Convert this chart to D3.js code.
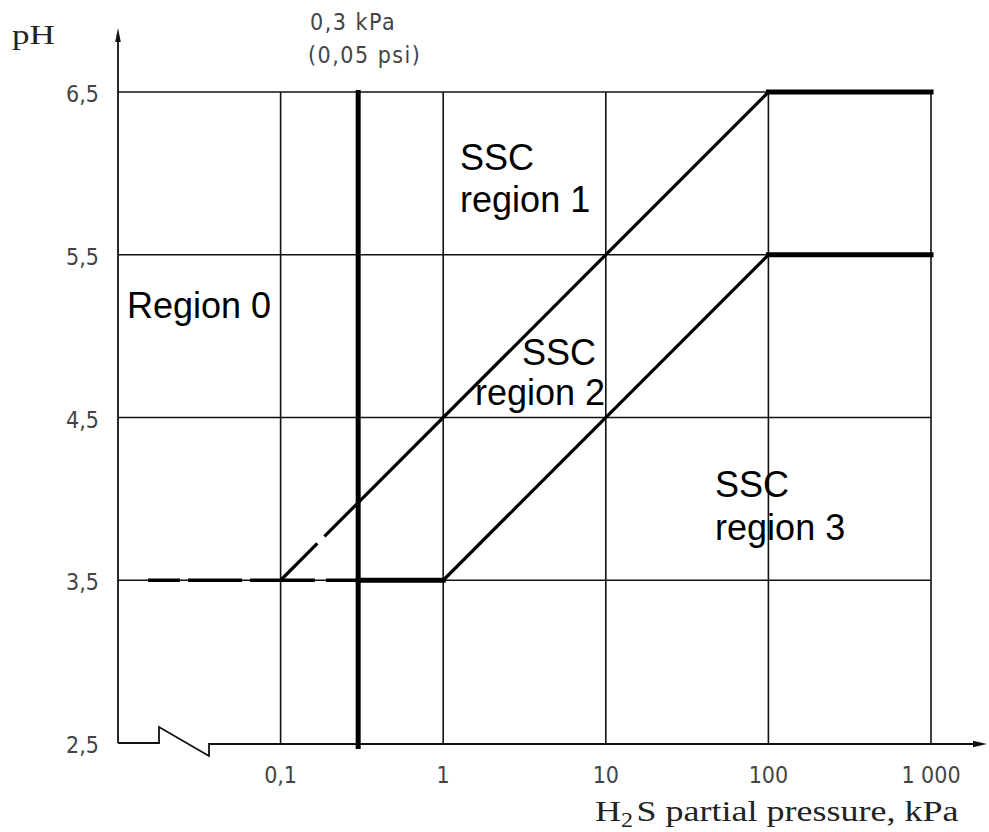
<!DOCTYPE html>
<html>
<head>
<meta charset="utf-8">
<script src="https://cdn.jsdelivr.net/npm/d3@7"></script>
<style>
  html, body { margin: 0; padding: 0; background: #fff; }
  svg { display: block; }
</style>
</head>
<body>
<svg id="chart" width="989" height="832"></svg>
<script>
// ---- data -------------------------------------------------------------
const xTicks = [0.1, 1, 10, 100, 1000];
const xTickLabels = ["0,1", "1", "10", "100", "1 000"];
const yTicks = [2.5, 3.5, 4.5, 5.5, 6.5];
const yTickLabels = ["2,5", "3,5", "4,5", "5,5", "6,5"];

// boundary between region 0/1 and region 1/2 (H2S kPa, pH)
const boundaryUpper = [[0.1, 3.5], [100, 6.5], [1000, 6.5]];
// boundary between region 2 and region 3
const boundaryLower = [[0.3, 3.5], [1, 3.5], [100, 5.5], [1000, 5.5]];
// dashed extension of pH 3.5 toward low pressure
const dashedLow = [[0.0153, 3.5], [0.3, 3.5]];
// limit of 0.3 kPa H2S partial pressure
const limitPressure = 0.3;

const regionLabels = [
  { lines: ["Region 0"], x: 0.01136, y: 5.11, dx: [0], lh: 42 },
  { lines: ["SSC", "region 1"], x: 1.27, y: 6.02, dx: [0, 0], lh: 42 },
  { lines: ["SSC", "region 2"], x: 3.05, y: 4.825, dx: [0, -47], lh: 40 },
  { lines: ["SSC", "region 3"], x: 47, y: 4.01, dx: [0, 0], lh: 43 }
];

// ---- layout -----------------------------------------------------------
const svg = d3.select("#chart");
const x = d3.scaleLog().domain([0.01, 1000]).range([118, 931]);
const y = d3.scaleLinear().domain([2.5, 6.5]).range([743, 92]);
const x0 = x.range()[0];
const ink = "#111";

// grid
svg.append("g").selectAll("line.v").data(xTicks).join("line")
  .attr("x1", d => x(d)).attr("x2", d => x(d))
  .attr("y1", y(6.5)).attr("y2", y(2.5))
  .attr("stroke", ink).attr("stroke-width", 1.6);
svg.append("g").selectAll("line.h").data(yTicks.slice(1)).join("line")
  .attr("x1", x0).attr("x2", x(1000))
  .attr("y1", d => y(d)).attr("y2", d => y(d))
  .attr("stroke", ink).attr("stroke-width", 1.6);

// y axis with arrow
const yAxisTop = 28;
svg.append("line").attr("x1", x0).attr("x2", x0)
  .attr("y1", y(2.5)).attr("y2", yAxisTop + 8)
  .attr("stroke", ink).attr("stroke-width", 1.8);
svg.append("path")
  .attr("d", `M${x0},${yAxisTop} L${x0 - 2.8},${yAxisTop + 14} L${x0 + 2.8},${yAxisTop + 14} Z`)
  .attr("fill", ink);

// x axis with break and arrow
const ya = y(2.5);
const bx1 = x0 + 41, bx2 = x0 + 91;
const xAxisEnd = 987;
svg.append("path")
  .attr("d", `M${x0},${ya} H${bx1} V${ya - 16} L${bx2},${ya + 13} V${ya + 1} H${xAxisEnd - 10}`)
  .attr("fill", "none").attr("stroke", ink).attr("stroke-width", 1.8)
  .attr("stroke-linejoin", "miter");
svg.append("path")
  .attr("d", `M${xAxisEnd},${ya + 1} L${xAxisEnd - 14},${ya - 2.2} L${xAxisEnd - 14},${ya + 4.2} Z`)
  .attr("fill", ink);

// tick labels
const tickFont = "'DejaVu Sans Condensed', 'DejaVu Sans', sans-serif";
svg.append("g").selectAll("text").data(xTicks).join("text")
  .attr("x", (d, i) => x(d)).attr("y", 783)
  .attr("text-anchor", "middle")
  .attr("font-family", tickFont).attr("font-stretch", "condensed")
  .attr("font-size", 23).attr("fill", "#444")
  .text((d, i) => xTickLabels[i]);
svg.append("g").selectAll("text").data(yTicks).join("text")
  .attr("x", 99).attr("y", d => y(d) + 10)
  .attr("text-anchor", "end")
  .attr("font-family", tickFont).attr("font-stretch", "condensed")
  .attr("font-size", 23).attr("fill", "#444")
  .text((d, i) => yTickLabels[i]);

// 0.3 kPa annotation
const ann = svg.append("text")
  .attr("font-family", tickFont).attr("font-stretch", "condensed")
  .attr("font-size", 23).attr("fill", "#444").attr("letter-spacing", 1.5);
ann.append("tspan").attr("x", 310).attr("y", 30).text("0,3 kPa");
ann.append("tspan").attr("x", 308).attr("y", 63).text("(0,05 psi)");

// axis titles
svg.append("text")
  .attr("transform", "translate(12,44) scale(1.3,1)")
  .attr("font-family", "'Liberation Serif', 'Times New Roman', serif")
  .attr("font-size", 27).attr("fill", "#222")
  .text("pH");
const xt = svg.append("text")
  .attr("transform", "translate(595,821) scale(1.2,1)")
  .attr("font-family", "'Liberation Serif', 'Times New Roman', serif")
  .attr("font-size", 30).attr("fill", "#222");
xt.append("tspan").text("H");
xt.append("tspan").attr("font-size", 20).attr("dy", 6).text("2");
xt.append("tspan").attr("dy", -6).attr("dx", 3).text("S partial pressure, kPa");

// limit line at 0.3 kPa
svg.append("line")
  .attr("x1", x(limitPressure)).attr("x2", x(limitPressure))
  .attr("y1", y(6.5) - 2).attr("y2", y(2.5) + 6)
  .attr("stroke", "#000").attr("stroke-width", 5);

// boundaries
const line = d3.line().x(d => x(d[0])).y(d => y(d[1]));

svg.append("path").datum(dashedLow).attr("d", line)
  .attr("fill", "none").attr("stroke", "#000").attr("stroke-width", 3.5)
  .attr("stroke-dasharray", "32 8 54 8 65 11 40");

// diagonal segments
svg.append("path").datum(boundaryUpper.slice(0, 2)).attr("d", line)
  .attr("fill", "none").attr("stroke", "#000").attr("stroke-width", 3.2)
  .attr("stroke-dasharray", "52 10 2000");
svg.append("path").datum(boundaryLower.slice(1, 3)).attr("d", line)
  .attr("fill", "none").attr("stroke", "#000").attr("stroke-width", 3.2);

// thick horizontal segments
[boundaryUpper.slice(1), boundaryLower.slice(0, 2), boundaryLower.slice(2)].forEach(seg => {
  svg.append("path").datum(seg).attr("d", line)
    .attr("fill", "none").attr("stroke", "#000").attr("stroke-width", 5)
    .attr("stroke-linecap", "square");
});

// region labels, one text element per line
regionLabels.forEach(r => {
  r.lines.forEach((s, i) => {
    svg.append("text")
      .attr("font-family", "'Liberation Sans', Arial, sans-serif")
      .attr("font-size", 36).attr("fill", "#000")
      .attr("x", x(r.x) + r.dx[i])
      .attr("y", y(r.y) + i * r.lh).text(s);
  });
});
</script>
</body>
</html>
